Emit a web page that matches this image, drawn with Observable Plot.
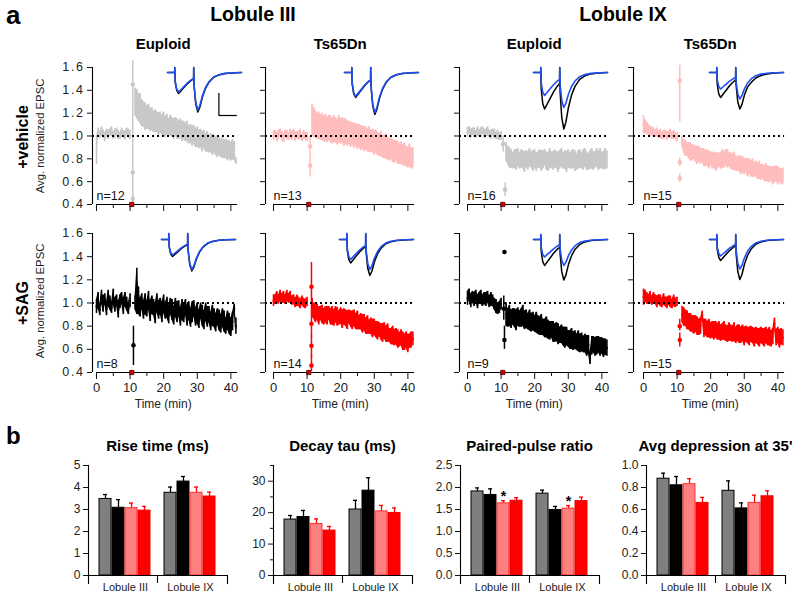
<!DOCTYPE html>
<html><head><meta charset="utf-8">
<script src="https://cdn.jsdelivr.net/npm/d3@7"></script>
<script src="https://cdn.jsdelivr.net/npm/@observablehq/plot@0.6"></script>
<style>
html,body{margin:0;padding:0;background:#fff;}
#fig{position:relative;width:800px;height:598px;overflow:hidden;font-family:"Liberation Sans",Arial,Helvetica,sans-serif;color:#000;background:#fff;}
.lbl{position:absolute;white-space:nowrap;line-height:1;}
</style></head><body><div id="fig"></div>
<script>
// ---------------- DATA ----------------
const lobules = ["Lobule III", "Lobule IX"];
const genotypes = ["Euploid", "Ts65Dn"];
const treatments = ["+vehicle", "+SAG"];
const nCellsVehicle = [12, 13, 16, 15];
const nCellsSAG = [8, 14, 9, 15];
const xMajorTicks = [0, 10, 20, 30, 40];
const xMinorTicks = [5, 15, 25, 35];
const yTicksEPSC = [0.4, 0.6, 0.8, 1.0, 1.2, 1.4, 1.6];
const applicationMarkerMin = 10.5;

const timePre = [0,0.5,1,1.5,2,2.5,3,3.5,4,4.5,5,5.5,6,6.5,7,7.5,8,8.5,9,9.5,10];
const timePost = [11.5,12,12.5,13,13.5,14,14.5,15,15.5,16,16.5,17,17.5,18,18.5,19,19.5,20,20.5,21,
 21.5,22,22.5,23,23.5,24,24.5,25,25.5,26,26.5,27,27.5,28,28.5,29,29.5,30,30.5,31,
 31.5,32,32.5,33,33.5,34,34.5,35,35.5,36,36.5,37,37.5,38,38.5,39,39.5,40,40.5,41,41.5];

// Lobule III, Euploid, +vehicle
const p1PreMean = [0.87,1.03,1.01,1.04,1.02,0.99,1.03,1.01,1.03,1.04,1.00,1.02,1.04,1.01,1.00,1.03,1.02,1.00,1.04,1.02,1.01];
const p1PreErr = [0.12,0.04,0.03,0.04,0.03,0.04,0.03,0.04,0.03,0.04,0.03,0.04,0.03,0.04,0.03,0.04,0.03,0.04,0.03,0.04,0.04];
const p1PostMean = [1.30,1.28,1.25,1.24,1.20,1.19,1.17,1.16,1.17,1.14,1.15,1.12,1.13,1.12,1.10,1.12,1.09,1.11,1.08,1.10,
 1.07,1.09,1.08,1.06,1.08,1.06,1.05,1.07,1.04,1.05,1.03,1.04,1.01,1.02,1.00,1.01,0.98,0.99,0.97,0.98,
 0.95,0.97,0.94,0.95,0.93,0.94,0.92,0.93,0.91,0.90,0.91,0.89,0.90,0.88,0.89,0.87,0.88,0.86,0.88,0.87,0.78];
const p1PostErr = [0.12,0.13,0.12,0.13,0.12,0.11,0.12,0.10,0.11,0.10,0.10,0.09,0.10,0.09,0.10,0.09,0.09,0.10,0.09,0.09,
 0.08,0.09,0.08,0.09,0.08,0.09,0.08,0.08,0.09,0.08,0.08,0.09,0.08,0.08,0.09,0.08,0.08,0.09,0.08,0.08,
 0.09,0.08,0.08,0.09,0.08,0.08,0.09,0.08,0.08,0.09,0.08,0.08,0.09,0.08,0.08,0.09,0.08,0.08,0.09,0.08,0.03];
const p1Transient = [{t:10.8,v:1.45,lo:1.0,hi:1.66},{t:10.8,v:0.68,lo:0.42,hi:1.0},{t:10.8,v:0.45,lo:0.42,hi:0.48}];

// Lobule III, Ts65Dn, +vehicle
const p2PreMean = [1.00,1.02,0.99,1.01,1.03,1.00,0.98,1.02,1.01,0.99,1.02,1.00,1.03,0.99,1.01,1.00,1.02,0.98,1.01,1.00,0.99];
const p2PreErr = [0.04,0.03,0.04,0.04,0.03,0.04,0.04,0.03,0.04,0.03,0.04,0.04,0.03,0.04,0.03,0.04,0.04,0.03,0.04,0.03,0.04];
const p2PostMean = [1.14,1.12,1.10,1.08,1.09,1.07,1.08,1.06,1.07,1.05,1.07,1.06,1.04,1.06,1.05,1.03,1.06,1.04,1.05,1.03,
 1.04,1.02,1.03,1.01,1.02,1.00,1.01,0.99,1.00,0.98,0.99,0.97,0.98,0.96,0.97,0.95,0.96,0.94,0.95,0.93,
 0.92,0.93,0.91,0.90,0.91,0.89,0.88,0.89,0.87,0.86,0.87,0.85,0.84,0.85,0.83,0.84,0.82,0.81,0.83,0.80,0.81];
const p2PostErr = [0.14,0.13,0.12,0.11,0.12,0.11,0.12,0.11,0.12,0.11,0.11,0.12,0.11,0.12,0.11,0.11,0.12,0.11,0.11,0.12,
 0.11,0.11,0.10,0.11,0.10,0.11,0.10,0.11,0.10,0.11,0.10,0.11,0.10,0.10,0.11,0.10,0.10,0.11,0.10,0.10,
 0.10,0.11,0.10,0.10,0.11,0.10,0.10,0.09,0.10,0.10,0.09,0.10,0.09,0.10,0.09,0.10,0.09,0.09,0.10,0.09,0.09];
const p2Transient = [{t:10.9,v:0.91,lo:0.84,hi:1.0},{t:10.9,v:0.74,lo:0.64,hi:0.84}];

// Lobule IX, Euploid, +vehicle
const p3PreMean = [1.03,1.05,1.02,1.04,1.03,1.01,1.04,1.02,1.03,1.05,1.02,1.03,1.04,1.02,1.01,1.03,1.02,1.00,1.01,0.99,1.00];
const p3PreErr = [0.04,0.03,0.04,0.03,0.04,0.03,0.04,0.03,0.04,0.03,0.04,0.03,0.04,0.03,0.04,0.03,0.04,0.03,0.04,0.03,0.04];
const p3PostMean = [0.86,0.83,0.81,0.80,0.78,0.80,0.79,0.81,0.78,0.80,0.79,0.77,0.80,0.78,0.81,0.79,0.78,0.80,0.77,0.79,
 0.80,0.78,0.79,0.81,0.78,0.77,0.80,0.79,0.78,0.80,0.79,0.77,0.79,0.81,0.78,0.79,0.77,0.80,0.78,0.79,
 0.80,0.78,0.77,0.79,0.80,0.78,0.79,0.81,0.78,0.77,0.79,0.80,0.78,0.79,0.81,0.78,0.80,0.79,0.78,0.80,0.79];
const p3PostErr = [0.08,0.08,0.09,0.08,0.07,0.08,0.09,0.08,0.07,0.08,0.08,0.09,0.07,0.08,0.08,0.07,0.09,0.08,0.08,0.07,
 0.08,0.09,0.08,0.07,0.08,0.08,0.09,0.07,0.08,0.08,0.07,0.09,0.08,0.08,0.07,0.08,0.09,0.08,0.07,0.08,
 0.08,0.09,0.07,0.08,0.08,0.07,0.09,0.08,0.08,0.07,0.08,0.09,0.08,0.07,0.08,0.08,0.09,0.07,0.08,0.09,0.08];
const p3Transient = [{t:10.6,v:0.93,lo:0.86,hi:1.0},{t:11.2,v:0.53,lo:0.47,hi:0.59}];

// Lobule IX, Ts65Dn, +vehicle
const p4PreMean = [1.10,1.08,1.07,1.05,1.04,1.04,1.03,1.02,1.03,1.01,1.02,1.00,1.01,1.02,1.00,1.01,1.02,1.00,1.01,1.00,0.99];
const p4PreErr = [0.08,0.06,0.05,0.05,0.04,0.04,0.04,0.03,0.04,0.03,0.04,0.03,0.04,0.03,0.04,0.03,0.04,0.03,0.04,0.03,0.04];
const p4PostMean = [0.95,0.91,0.89,0.88,0.87,0.86,0.85,0.86,0.84,0.83,0.84,0.82,0.83,0.81,0.80,0.81,0.79,0.80,0.78,0.79,
 0.77,0.78,0.79,0.78,0.80,0.79,0.81,0.80,0.79,0.78,0.77,0.78,0.76,0.75,0.76,0.74,0.75,0.73,0.74,0.72,
 0.73,0.71,0.72,0.70,0.71,0.69,0.70,0.68,0.69,0.67,0.68,0.67,0.66,0.67,0.65,0.66,0.67,0.65,0.66,0.64,0.65];
const p4PostErr = [0.05,0.06,0.07,0.06,0.07,0.08,0.07,0.06,0.07,0.08,0.07,0.07,0.06,0.08,0.07,0.07,0.08,0.06,0.07,0.07,
 0.08,0.07,0.06,0.07,0.08,0.07,0.07,0.08,0.06,0.07,0.07,0.08,0.07,0.06,0.07,0.08,0.07,0.07,0.06,0.08,
 0.07,0.07,0.08,0.06,0.07,0.07,0.08,0.07,0.06,0.07,0.08,0.07,0.07,0.06,0.08,0.07,0.07,0.08,0.06,0.07,0.07];
const p4Transient = [{t:10.8,v:1.485,lo:1.12,hi:1.62},{t:10.8,v:0.77,lo:0.73,hi:0.81},{t:10.8,v:0.63,lo:0.59,hi:0.67}];

// Lobule III, Euploid, +SAG
const p5PreMean = [0.97,1.02,0.94,1.05,0.99,1.03,0.95,1.04,1.00,0.96,1.05,0.98,1.02,0.94,1.01,1.04,0.97,1.03,0.99,0.95,1.02];
const p5PreErr = [0.06,0.07,0.05,0.06,0.07,0.05,0.06,0.07,0.06,0.05,0.07,0.06,0.05,0.07,0.06,0.05,0.07,0.06,0.06,0.05,0.06];
const p5PostMean = [1.00,1.10,1.02,0.96,1.01,0.94,0.99,0.95,1.02,0.93,0.98,0.96,0.91,1.00,0.94,0.97,0.92,0.99,0.93,0.96,
 0.90,0.97,0.94,0.89,0.96,0.92,0.95,0.88,0.94,0.91,0.96,0.89,0.93,0.87,0.92,0.95,0.88,0.91,0.86,0.93,
 0.89,0.85,0.92,0.88,0.90,0.84,0.89,0.87,0.83,0.88,0.85,0.82,0.87,0.84,0.80,0.85,0.82,0.79,0.84,0.95,0.80];
const p5PostErr = [0.06,0.20,0.12,0.08,0.07,0.08,0.09,0.07,0.08,0.09,0.08,0.07,0.09,0.08,0.08,0.07,0.09,0.08,0.07,0.09,
 0.08,0.07,0.09,0.08,0.08,0.09,0.07,0.08,0.09,0.08,0.07,0.09,0.08,0.08,0.09,0.07,0.08,0.09,0.08,0.07,
 0.09,0.08,0.08,0.09,0.07,0.08,0.09,0.08,0.08,0.07,0.09,0.08,0.08,0.09,0.07,0.08,0.09,0.08,0.08,0.04,0.07];
const p5Transient = [{t:11.0,v:0.635,lo:0.46,hi:0.80}];

// Lobule III, Ts65Dn, +SAG
const p6PreMean = [1.02,1.03,1.05,1.03,1.06,1.04,1.05,1.03,1.06,1.04,1.05,1.02,1.03,1.00,1.02,1.01,0.99,1.02,1.00,0.99,1.01];
const p6PreErr = [0.05,0.04,0.05,0.04,0.05,0.04,0.05,0.04,0.05,0.04,0.05,0.04,0.04,0.04,0.05,0.04,0.04,0.04,0.04,0.04,0.04];
const p6PostMean = [0.96,0.93,0.91,0.92,0.89,0.91,0.90,0.88,0.90,0.89,0.91,0.88,0.89,0.87,0.90,0.88,0.87,0.89,0.86,0.88,
 0.87,0.85,0.88,0.86,0.85,0.87,0.84,0.85,0.83,0.84,0.82,0.83,0.80,0.81,0.79,0.80,0.78,0.79,0.77,0.76,
 0.77,0.75,0.74,0.76,0.73,0.74,0.72,0.71,0.72,0.70,0.71,0.69,0.68,0.70,0.67,0.66,0.68,0.65,0.67,0.68,0.69];
const p6PostErr = [0.08,0.07,0.08,0.07,0.08,0.06,0.08,0.07,0.07,0.08,0.06,0.07,0.08,0.07,0.07,0.08,0.06,0.07,0.08,0.07,
 0.07,0.08,0.06,0.07,0.08,0.07,0.07,0.08,0.06,0.07,0.08,0.07,0.07,0.08,0.06,0.07,0.08,0.07,0.07,0.08,
 0.06,0.07,0.08,0.07,0.07,0.08,0.06,0.07,0.08,0.07,0.07,0.08,0.06,0.07,0.08,0.07,0.07,0.08,0.06,0.07,0.06];
const p6Transient = [{t:11.3,v:1.14,lo:0.93,hi:1.35},{t:11.3,v:0.82,lo:0.70,hi:0.93},{t:11.3,v:0.63,lo:0.53,hi:0.72},{t:11.3,v:0.46,lo:0.41,hi:0.55}];

// Lobule IX, Euploid, +SAG
const p7PreMean = [1.04,1.07,1.02,1.05,1.03,1.06,1.01,1.04,1.05,1.02,1.04,1.03,1.05,1.01,1.03,1.02,0.99,0.97,0.95,0.96,0.99];
const p7PreErr = [0.06,0.05,0.06,0.05,0.06,0.05,0.06,0.05,0.06,0.05,0.05,0.06,0.05,0.05,0.06,0.05,0.05,0.06,0.05,0.05,0.05];
const p7PostMean = [0.90,0.87,0.89,0.86,0.88,0.87,0.85,0.88,0.86,0.87,0.89,0.85,0.86,0.84,0.85,0.83,0.84,0.82,0.83,0.81,
 0.80,0.81,0.79,0.78,0.79,0.77,0.76,0.77,0.75,0.74,0.75,0.73,0.72,0.73,0.71,0.70,0.71,0.69,0.68,0.69,
 0.67,0.68,0.66,0.67,0.65,0.66,0.64,0.65,0.63,0.64,0.52,0.63,0.64,0.62,0.63,0.64,0.62,0.63,0.61,0.62,0.61];
const p7PostErr = [0.10,0.08,0.09,0.08,0.07,0.08,0.09,0.08,0.07,0.08,0.09,0.08,0.08,0.07,0.09,0.08,0.08,0.07,0.09,0.08,
 0.08,0.09,0.07,0.08,0.09,0.08,0.08,0.07,0.09,0.08,0.08,0.09,0.07,0.08,0.08,0.09,0.08,0.07,0.08,0.09,
 0.08,0.08,0.07,0.09,0.08,0.08,0.07,0.08,0.09,0.08,0.05,0.08,0.07,0.08,0.08,0.07,0.08,0.07,0.08,0.07,0.07];
const p7Transient = [{t:10.8,v:0.95,lo:0.85,hi:1.06},{t:11.0,v:1.44,lo:1.44,hi:1.44},{t:11.0,v:0.68,lo:0.60,hi:0.80}];

// Lobule IX, Ts65Dn, +SAG
const p8PreMean = [1.05,1.06,1.04,1.03,1.05,1.02,1.04,1.03,1.01,1.03,1.02,1.00,1.03,1.01,1.00,1.02,1.01,0.99,1.02,1.00,1.01];
const p8PreErr = [0.07,0.05,0.05,0.04,0.05,0.04,0.05,0.04,0.05,0.04,0.05,0.04,0.05,0.04,0.05,0.04,0.05,0.04,0.05,0.04,0.04];
const p8PostMean = [0.90,0.88,0.87,0.85,0.84,0.83,0.82,0.81,0.82,0.80,0.79,0.80,0.89,0.78,0.79,0.77,0.78,0.76,0.77,0.76,
 0.77,0.75,0.76,0.74,0.75,0.76,0.74,0.73,0.75,0.74,0.73,0.75,0.72,0.74,0.73,0.72,0.74,0.71,0.73,0.72,
 0.71,0.73,0.72,0.70,0.72,0.71,0.70,0.72,0.71,0.70,0.72,0.70,0.71,0.69,0.71,0.82,0.70,0.72,0.69,0.71,0.70];
const p8PostErr = [0.07,0.08,0.07,0.08,0.07,0.08,0.07,0.08,0.07,0.08,0.07,0.07,0.04,0.08,0.07,0.07,0.08,0.07,0.07,0.08,
 0.07,0.07,0.08,0.07,0.07,0.08,0.07,0.07,0.08,0.07,0.07,0.08,0.07,0.07,0.08,0.07,0.07,0.08,0.07,0.07,
 0.08,0.07,0.07,0.08,0.07,0.07,0.08,0.07,0.07,0.08,0.07,0.07,0.08,0.07,0.07,0.05,0.07,0.07,0.08,0.07,0.07];
const p8Transient = [{t:10.8,v:0.80,lo:0.76,hi:0.86},{t:10.8,v:0.68,lo:0.62,hi:0.74}];

// Inset EPSC traces (paired pulses): time (a.u.) and current (a.u., negative = inward)
const insetTime = [0,7,7.1,7.5,9,10.8,13,16,19.5,23,25.4,25.5,25.9,27.5,29.5,31.5,34,37,40.5,45,50,56,63,72];
const trace1Black = [0,0,5,-9.5,-17.9,-21,-18.5,-15.1,-11.1,-8,-6.3,5,-13.8,-31.6,-39.5,-34.8,-24.5,-15.8,-9.5,-4.7,-2.4,-1,-0.4,0];
const trace1Blue  = [0,0,5,-8.8,-16.6,-19.5,-17.2,-14,-10.3,-7.4,-5.9,5,-13.1,-30,-37.5,-33,-23.3,-15,-9,-4.5,-2.3,-0.9,-0.4,0];
const trace2Black = [0,0,5,-11.3,-21.3,-25,-22,-18,-13.3,-9.5,-7.5,5,-14.7,-33.6,-42,-37,-26,-16.8,-10.1,-5,-2.5,-1.1,-0.4,0];
const trace2Blue  = [0,0,5,-10.8,-20.4,-24,-21.1,-17.3,-12.7,-9.1,-7.2,5,-14,-32,-40,-35.2,-24.8,-16,-9.6,-4.8,-2.4,-1,-0.4,0];
const trace3Black = [0,0,5,-16.4,-31,-36.5,-32.1,-26.3,-19.3,-13.9,-11,5,-19.8,-45.2,-56.5,-49.7,-35,-22.6,-13.6,-6.8,-3.4,-1.4,-0.6,0];
const trace3Blue  = [0,0,5,-10.4,-19.6,-23,-20.2,-16.6,-12.2,-8.7,-6.9,5,-12.3,-28,-35,-30.8,-21.7,-14,-8.4,-4.2,-2.1,-0.9,-0.4,0];
const trace4Black = [0,0,5,-11.3,-21.3,-25,-22,-18,-13.3,-9.5,-7.5,5,-12.8,-29.2,-36.5,-32.1,-22.6,-14.6,-10,-5.5,-3,-1.5,-0.6,0];
const trace4Blue  = [0,0,5,-7.4,-14,-16.5,-14.5,-11.9,-8.7,-6.3,-5,5,-9.3,-21.2,-26.5,-23.3,-16.4,-10.6,-6.4,-3.2,-1.6,-0.7,-0.3,0];
const trace5Black = [0,0,6,-7.7,-14.5,-17,-15,-12.2,-9,-6.5,-5.1,6,-11,-25.2,-31.5,-27.7,-19.5,-12.6,-7.6,-3.8,-1.9,-0.8,-0.3,0];
const trace5Blue  = [0,0,6,-7,-13.2,-15.5,-13.6,-11.2,-8.2,-5.9,-4.7,6,-10.5,-24,-30,-26.4,-18.6,-12,-7.2,-3.6,-1.8,-0.8,-0.3,0];
const trace6Black = [0,0,6,-10.6,-20,-23.5,-20.7,-16.9,-12.5,-8.9,-7.1,6,-12.6,-28.8,-36,-31.7,-22.3,-14.4,-8.6,-4.3,-2.2,-0.9,-0.4,0];
const trace6Blue  = [0,0,6,-9,-17,-20,-17.6,-14.4,-10.6,-7.6,-6,6,-10.5,-24,-30,-26.4,-18.6,-12,-7.2,-3.6,-1.8,-0.8,-0.3,0];
const trace7Black = [0,0,5,-11.7,-22.1,-26,-22.9,-18.7,-13.8,-9.9,-7.8,5,-14.2,-32.4,-40.5,-35.6,-25.1,-16.2,-9.7,-4.9,-2.4,-1,-0.4,0];
const trace7Blue  = [0,0,5,-7.9,-14.9,-17.5,-15.4,-12.6,-9.3,-6.7,-5.3,5,-9.1,-20.8,-26,-22.9,-16.1,-10.4,-6.2,-3.1,-1.6,-0.7,-0.3,0];
const trace8Black = [0,0,5,-9.5,-17.9,-21,-18.5,-15.1,-11.1,-8,-6.3,5,-14,-32,-40,-35.2,-24.8,-16,-9.6,-4.8,-2.4,-1,-0.4,0];
const trace8Blue  = [0,0,5,-7.4,-14,-16.5,-14.5,-11.9,-8.7,-6.3,-5,5,-10.3,-23.6,-29.5,-26,-18.3,-11.8,-7.1,-3.5,-1.8,-0.7,-0.3,0];
const scaleBarTime = [50, 68];
const scaleBarAmp = [-21, -43];

// Panel b bar data (order: Lobule III x4, Lobule IX x4)
const barConditions = ["Euploid +vehicle", "Euploid +SAG", "Ts65Dn +vehicle", "Ts65Dn +SAG"];
const riseTimeMean = [3.48, 3.08, 3.06, 2.95, 3.76, 4.27, 3.76, 3.59];
const riseTimeSem  = [0.20, 0.37, 0.23, 0.19, 0.26, 0.23, 0.26, 0.20];
const decayTauMean = [17.8, 18.6, 16.4, 14.3, 21.0, 27.0, 20.4, 19.9];
const decayTauSem  = [1.3, 2.1, 1.6, 1.3, 2.9, 4.1, 1.9, 1.6];
const pprMean = [1.91, 1.83, 1.64, 1.70, 1.86, 1.49, 1.52, 1.69];
const pprSem  = [0.08, 0.14, 0.06, 0.07, 0.08, 0.08, 0.07, 0.09];
const pprStars = ["", "", "*", "", "", "", "*", ""];
const depressionMean = [0.88, 0.82, 0.83, 0.66, 0.77, 0.61, 0.66, 0.72];
const depressionSem  = [0.05, 0.08, 0.05, 0.05, 0.09, 0.05, 0.07, 0.05];
const barTitles = ["Rise time (ms)", "Decay tau (ms)", "Paired-pulse ratio", "Avg depression at 35'"];
const barTicks = [[0,1,2,3,4,5],[0,10,20,30],[0,0.5,1,1.5,2,2.5],[0,0.2,0.4,0.6,0.8,1.0]];
const barMinorTicks = [[],[5,15,25,35],[],[]];
const barDomains = [[0,5],[0,35],[0,2.5],[0,1.0]];

// ---------------- STYLES / LAYOUT ----------------
const FONT = '"Liberation Sans", Arial, Helvetica, sans-serif';
const seriesColor = {"Euploid+vehicle":"#c8c8c8","Ts65Dn+vehicle":"#ffbdbd","Euploid+SAG":"#000000","Ts65Dn+SAG":"#ff0000"};
const barFill = ["#7f7f7f", "#000000", "#ff8080", "#ff0000"];
const barStroke = ["#000000", "#000000", "#ff3030", "#ee0000"];
const barErrColor = ["#000000", "#000000", "#ff0000", "#ff0000"];
const PXMIN = 3.36;
const colYAxisX = [92, 265, 459, 633];
const colX0 = [96, 273, 467, 643];
const rowTopY = [67, 233], rowBotY = [204, 372];
const insetLeft = [[167, 344, 533, 709], [161, 339, 533, 709]];
const insetBase = [72, 239];

const fig = document.getElementById("fig");
function addText(str, x, baseline, size, weight, anchor, color) {
  const d = document.createElement("div");
  d.className = "lbl"; d.textContent = str;
  d.style.fontSize = size + "px"; d.style.fontWeight = weight || "normal";
  d.style.color = color || "#000";
  d.style.top = (baseline - 0.847 * size) + "px"; d.style.left = x + "px";
  if (anchor === "middle") d.style.transform = "translateX(-50%)";
  fig.appendChild(d);
}
function addVText(str, cx, cy, size, weight, color) {
  const d = document.createElement("div");
  d.className = "lbl"; d.textContent = str;
  d.style.fontSize = size + "px"; d.style.fontWeight = weight || "normal";
  d.style.color = color || "#000";
  d.style.left = cx + "px"; d.style.top = cy + "px";
  d.style.transform = "translate(-50%,-50%) rotate(-90deg)";
  fig.appendChild(d);
}
function place(svg, left, top) {
  svg.style.position = "absolute"; svg.style.left = left + "px"; svg.style.top = top + "px";
  fig.appendChild(svg);
}

const panels = [
  {row:0,col:0,g:"Euploid",tr:"+vehicle",pre:p1PreMean,preE:p1PreErr,post:p1PostMean,postE:p1PostErr,trans:p1Transient,n:nCellsVehicle[0],k:trace1Black,b:trace1Blue},
  {row:0,col:1,g:"Ts65Dn",tr:"+vehicle",pre:p2PreMean,preE:p2PreErr,post:p2PostMean,postE:p2PostErr,trans:p2Transient,n:nCellsVehicle[1],k:trace2Black,b:trace2Blue},
  {row:0,col:2,g:"Euploid",tr:"+vehicle",pre:p3PreMean,preE:p3PreErr,post:p3PostMean,postE:p3PostErr,trans:p3Transient,n:nCellsVehicle[2],k:trace3Black,b:trace3Blue},
  {row:0,col:3,g:"Ts65Dn",tr:"+vehicle",pre:p4PreMean,preE:p4PreErr,post:p4PostMean,postE:p4PostErr,trans:p4Transient,n:nCellsVehicle[3],k:trace4Black,b:trace4Blue},
  {row:1,col:0,g:"Euploid",tr:"+SAG",pre:p5PreMean,preE:p5PreErr,post:p5PostMean,postE:p5PostErr,trans:p5Transient,n:nCellsSAG[0],k:trace5Black,b:trace5Blue},
  {row:1,col:1,g:"Ts65Dn",tr:"+SAG",pre:p6PreMean,preE:p6PreErr,post:p6PostMean,postE:p6PostErr,trans:p6Transient,n:nCellsSAG[1],k:trace6Black,b:trace6Blue},
  {row:1,col:2,g:"Euploid",tr:"+SAG",pre:p7PreMean,preE:p7PreErr,post:p7PostMean,postE:p7PostErr,trans:p7Transient,n:nCellsSAG[2],k:trace7Black,b:trace7Blue},
  {row:1,col:3,g:"Ts65Dn",tr:"+SAG",pre:p8PreMean,preE:p8PreErr,post:p8PostMean,postE:p8PostErr,trans:p8Transient,n:nCellsSAG[3],k:trace8Black,b:trace8Blue}
];

for (const p of panels) {
  const color = seriesColor[p.g + p.tr];
  const series = [];
  timePre.forEach((t, i) => { if (p.pre[i] != null) series.push({t, m: p.pre[i], e: p.preE[i], seg: 0}); });
  timePost.forEach((t, i) => { if (p.post[i] != null) series.push({t, m: p.post[i], e: p.postE[i], seg: 1}); });
  const k = (colX0[p.col] - colYAxisX[p.col]) / PXMIN;
  const innerW = (42 + k) * PXMIN;
  const mL = p.col === 0 ? 40 : 12, mR = 4, mT = 10, mB = p.row === 1 ? 28 : 14;
  const innerH = rowBotY[p.row] - rowTopY[p.row];
  const svg = Plot.plot({
    width: mL + innerW + mR, height: mT + innerH + mB,
    marginLeft: mL, marginRight: mR, marginTop: mT, marginBottom: mB,
    style: {fontFamily: FONT, fontSize: "12px", color: "#111", background: "transparent", overflow: "visible"},
    x: {domain: [-k, 42], label: null},
    y: {domain: [0.4, 1.6], label: null},
    marks: [
      Plot.areaY(series, {x: "t", y1: d => d.m - d.e, y2: d => d.m + d.e, z: "seg", fill: color}),
      Plot.ruleX(series, {x: "t", y1: d => d.m - d.e, y2: d => d.m + d.e, stroke: color, strokeWidth: 1.6}),
      Plot.dot(series, {x: "t", y: "m", r: 1.1, fill: color}),
      Plot.ruleX(p.trans, {x: "t", y1: "lo", y2: "hi", stroke: color, strokeWidth: 1.5}),
      Plot.dot(p.trans, {x: "t", y: "v", r: 2.3, fill: color}),
      Plot.ruleY([1.0], {x1: -k, x2: 42, stroke: "#000", strokeWidth: 2, strokeDasharray: "2,3"}),
      Plot.ruleX([-k], {y1: 0.4, y2: 1.6, stroke: "#000", strokeWidth: 1.1}),
      Plot.ruleY([0.4], {x1: 0, x2: 42, stroke: "#000", strokeWidth: 1.1}),
      Plot.axisY({ticks: yTicksEPSC, tickSize: 5, tickPadding: 3, label: null, fontSize: 12.5,
        tickFormat: p.col === 0 ? (d => d.toFixed(1)) : (() => ""), fill: "#222"}),
      Plot.axisX({ticks: xMajorTicks, tickSize: 7, tickPadding: 3, label: null, fontSize: 13,
        tickFormat: p.row === 1 ? (d => String(d)) : (() => ""), fill: "#222"}),
      Plot.axisX({ticks: xMinorTicks, tickSize: 4, label: null, tickFormat: () => ""}),
      Plot.dot([applicationMarkerMin], {x: d => d, y: 0.4, symbol: "square", r: 2.4, fill: "#d00000", stroke: "#500000", strokeWidth: 0.8}),
      Plot.text([`n=${p.n}`], {x: 0, y: 0.4, text: d => d, dy: -4, textAnchor: "start", lineAnchor: "bottom", fontSize: 12.5, fill: "#111"})
    ]
  });
  svg.querySelectorAll('[aria-label="y-axis tick label"]').forEach(g => g.setAttribute("letter-spacing", "1.6"));
  place(svg, colYAxisX[p.col] - mL, rowTopY[p.row] - mT);

  // inset traces
  const insetMarks = [
    Plot.line(p.k, {x: insetTime, y: d => d, stroke: "#000", strokeWidth: 1.5}),
    Plot.line(p.b, {x: insetTime, y: d => d, stroke: "#1f4ff0", strokeWidth: 1.6})
  ];
  if (p.row === 0 && p.col === 0) {
    insetMarks.push(Plot.ruleX([scaleBarTime[0]], {y1: scaleBarAmp[0], y2: scaleBarAmp[1], stroke: "#000", strokeWidth: 1.2}));
    insetMarks.push(Plot.ruleY([scaleBarAmp[1]], {x1: scaleBarTime[0], x2: scaleBarTime[1], stroke: "#000", strokeWidth: 1.2}));
  }
  const ins = Plot.plot({
    width: 74, height: 68, margin: 0,
    style: {background: "transparent", overflow: "visible"},
    x: {domain: [0, 72], axis: null}, y: {domain: [-60, 8], axis: null},
    marks: insetMarks
  });
  place(ins, insetLeft[p.row][p.col], insetBase[p.row] - 8);
}

// ---------- panel a texts ----------
addText("a", 6, 24, 26, "bold", "start");
addText(lobules[0], 253, 22, 19.5, "bold", "middle");
addText(lobules[1], 623, 22, 19.5, "bold", "middle");
for (let c = 0; c < 4; c++) {
  const cx = colX0[c] + 20 * PXMIN;
  addText(genotypes[c % 2], cx, 49, 15, "bold", "middle");
  addText("Time (min)", cx, 408, 12, "normal", "middle", "#222");
}
addVText(treatments[0], 23, 137, 16, "bold");
addVText(treatments[1], 23, 303, 16, "bold");
addVText("Avg. normalized EPSC", 41, 136, 11.3, "normal", "#222");
addVText("Avg. normalized EPSC", 41, 301, 11.3, "normal", "#222");

// ---------- panel b ----------
addText("b", 6, 444, 24, "bold", "start");
const barAxisX = [88, 273, 460, 646];
const barSlots = [];
lobules.forEach((lob, li) => { if (li) barSlots.push("gap"); barConditions.forEach(c => barSlots.push(lob + "|" + c)); });
const barSets = [[riseTimeMean, riseTimeSem, null], [decayTauMean, decayTauSem, null], [pprMean, pprSem, pprStars], [depressionMean, depressionSem, null]];
const pIn = 0.07, pOut = 0.55, axisLen = 139;
const halfStep = axisLen / (barSlots.length - pIn + 2 * pOut) / 2;
barSets.forEach(([means, sems, stars], ci) => {
  const rows = means.map((m, i) => ({key: barSlots[i < 4 ? i : i + 1], mean: m, sem: sems[i], c: i % 4, star: stars ? stars[i] : ""}));
  const mL = 30, mR = 6, mT = 10, mB = 15, frameH = 118;
  const fmt = ci === 0 || ci === 1 ? (d => String(d)) : (d => d.toFixed(1));
  const marks = [
    Plot.ruleX(rows, {x: "key", y1: "mean", y2: d => d.mean + d.sem, stroke: d => barErrColor[d.c], strokeWidth: 1.3}),
    Plot.tickY(rows, {x: "key", y: d => d.mean + d.sem, stroke: d => barErrColor[d.c], strokeWidth: 1.3, insetLeft: 4, insetRight: 4}),
    Plot.barY(rows, {x: "key", y: "mean", fill: d => barFill[d.c], stroke: d => barStroke[d.c], strokeWidth: 1}),
    Plot.ruleY([0], {stroke: "#000", strokeWidth: 1.1}),
    Plot.frame({anchor: "left", stroke: "#000", strokeWidth: 1.1}),
    Plot.frame({anchor: "right", stroke: "#000", strokeWidth: 1.1, insetTop: frameH - 8}),
    Plot.ruleX(["gap"], {stroke: "#000", strokeWidth: 1.1, insetTop: frameH - 8}),
    Plot.axisY({ticks: barTicks[ci], tickSize: 5, tickPadding: 3, tickFormat: fmt, label: null, fontSize: 12, fill: "#222"}),
    Plot.text(lobules, {x: lobules.map(l => l + "|" + barConditions[1]), dx: halfStep, text: d => d, frameAnchor: "bottom", lineAnchor: "top", dy: 0, fontSize: 11, fill: "#222"})
  ];
  if (barMinorTicks[ci].length) marks.push(Plot.axisY({ticks: barMinorTicks[ci], tickSize: 3, tickFormat: () => "", label: null}));
  if (stars) marks.push(Plot.text(rows.filter(d => d.star), {x: "key", y: d => d.mean + d.sem, text: "star", lineAnchor: "bottom", dy: 0, fontSize: 14, fontWeight: "bold", fill: "#000"}));
  const svg = Plot.plot({
    width: mL + axisLen + mR, height: mT + frameH + mB,
    marginLeft: mL, marginRight: mR, marginTop: mT, marginBottom: mB,
    style: {fontFamily: FONT, fontSize: "12px", color: "#111", background: "transparent", overflow: "visible"},
    x: {domain: barSlots, paddingInner: pIn, paddingOuter: pOut, axis: null, label: null},
    y: {domain: barDomains[ci], insetBottom: 8, label: null},
    color: {type: "identity"},
    marks
  });
  place(svg, barAxisX[ci] - mL, 465 - mT);
  addText(barTitles[ci], barAxisX[ci] + axisLen / 2, 451, 15, "bold", "middle");
});
</script></body></html>
